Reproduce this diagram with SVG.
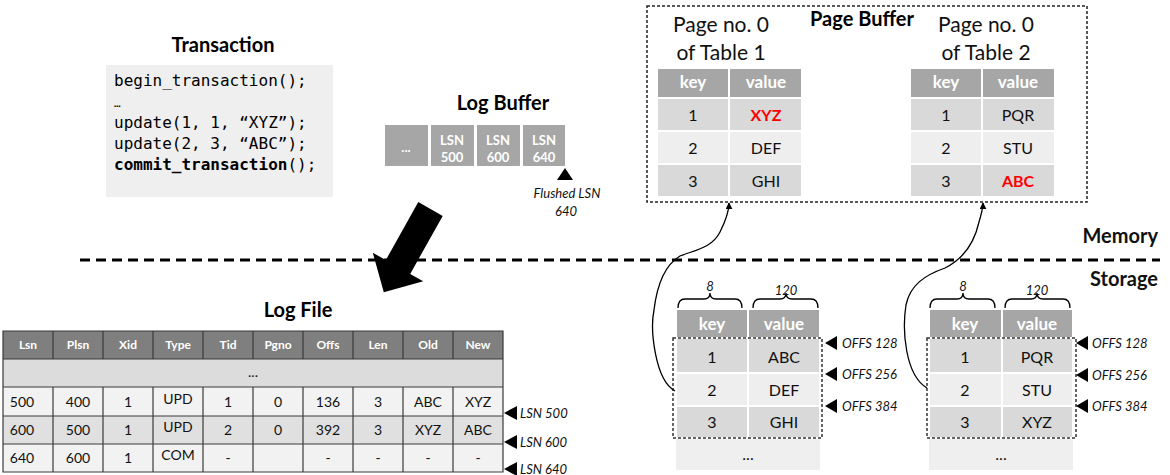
<svg xmlns="http://www.w3.org/2000/svg" width="1170" height="475" viewBox="0 0 1170 475">
<defs>
<marker id="ah" viewBox="0 0 10 10" refX="9" refY="5" markerWidth="7" markerHeight="7" markerUnits="userSpaceOnUse" orient="auto"><path d="M0,0 L10,5 L0,10 Z" fill="#000"/></marker>
</defs>
<style>
text{font-family:Lato,"Open Sans","Liberation Sans",sans-serif;fill:#111}
.title{font-weight:bold;font-size:20px;text-anchor:middle;fill:#000}
.code{font-family:"DejaVu Sans Mono","Liberation Mono",monospace;font-size:16px;fill:#000}
.hdr{fill:#a6a6a6;stroke:#fff;stroke-width:2}
.c1{fill:#d9d9d9;stroke:#fff;stroke-width:2}
.c2{fill:#eeeeee;stroke:#fff;stroke-width:2}
.ht{font-weight:bold;fill:#fff;font-size:17px;text-anchor:middle}
.dt{font-size:16px;text-anchor:middle}
.red{fill:#ff0000;font-weight:bold}
.it{font-style:italic;font-size:13px}
.tri{fill:#000}
.dash{fill:none;stroke:#333;stroke-width:1.5;stroke-dasharray:3 2}
.brace{fill:none;stroke:#000;stroke-width:1.3}
.lh{fill:#7f7f7f}
.lt{font-weight:bold;fill:#fff;font-size:12px;text-anchor:middle}
.ld{font-size:14px;text-anchor:middle}
.grid{stroke:#3a3a3a;stroke-width:1.2;fill:none}
.lb{fill:#a6a6a6;stroke:#fff;stroke-width:2}
.lbt{font-weight:bold;fill:#fff;font-size:13px;text-anchor:middle}
.pg{font-size:21px;text-anchor:middle}
</style>

<g id="transaction">
<text class="title" x="223" y="52">Transaction</text>
<rect x="106" y="65" width="227" height="132" fill="#efefef"/>
<text class="code" x="114" y="86">begin_transaction();</text>
<text class="code" x="114" y="107" style="font-size:11px">…</text>
<text class="code" x="114" y="128">update(1, 1, “XYZ”);</text>
<text class="code" x="114" y="149">update(2, 3, “ABC”);</text>
<text class="code" x="114" y="170"><tspan font-weight="bold">commit_transaction</tspan>();</text>
</g>

<g id="log-buffer">
<text class="title" x="503" y="110">Log Buffer</text>
<rect class="lb" x="384" y="124" width="45" height="43"/>
<rect class="lb" x="430" y="124" width="45" height="43"/>
<rect class="lb" x="476" y="124" width="45" height="43"/>
<rect class="lb" x="522" y="124" width="44" height="43"/>
<text class="lbt" x="406" y="152">...</text>
<text class="lbt" x="452" y="145">LSN</text><text class="lbt" x="452" y="162">500</text>
<text class="lbt" x="498" y="145">LSN</text><text class="lbt" x="498" y="162">600</text>
<text class="lbt" x="544" y="145">LSN</text><text class="lbt" x="544" y="162">640</text>
<path class="tri" d="M565,168 L573,180 L557,180 Z"/>
<text class="it" x="567" y="198" text-anchor="middle">Flushed LSN</text>
<text class="it" x="566" y="216" text-anchor="middle">640</text>
</g>

<g id="page-buffer">
<rect x="647" y="6" width="440" height="196" fill="none" stroke="#222" stroke-width="1.5" stroke-dasharray="3 2"/>
<text class="title" x="862" y="26">Page Buffer</text>
</g>

<g id="page-table-1">
<text class="pg" x="721" y="32">Page no. 0</text>
<text class="pg" x="721" y="60">of Table 1</text>
<rect class="hdr" x="657" y="68" width="72" height="30"/><rect class="hdr" x="729" y="68" width="73" height="30"/>
<rect class="c1" x="657" y="98" width="72" height="33"/><rect class="c1" x="729" y="98" width="73" height="33"/>
<rect class="c2" x="657" y="131" width="72" height="33"/><rect class="c2" x="729" y="131" width="73" height="33"/>
<rect class="c1" x="657" y="164" width="72" height="33"/><rect class="c1" x="729" y="164" width="73" height="33"/>
<text class="ht" x="693" y="88">key</text><text class="ht" x="766" y="88">value</text>
<text class="dt" x="693" y="121">1</text><text class="dt red" x="766" y="121">XYZ</text>
<text class="dt" x="693" y="154">2</text><text class="dt" x="766" y="154">DEF</text>
<text class="dt" x="693" y="187">3</text><text class="dt" x="766" y="187">GHI</text>
</g>

<g id="page-table-2">
<text class="pg" x="986" y="32">Page no. 0</text>
<text class="pg" x="986" y="60">of Table 2</text>
<rect class="hdr" x="910" y="68" width="72" height="30"/><rect class="hdr" x="982" y="68" width="73" height="30"/>
<rect class="c1" x="910" y="98" width="72" height="33"/><rect class="c1" x="982" y="98" width="73" height="33"/>
<rect class="c2" x="910" y="131" width="72" height="33"/><rect class="c2" x="982" y="131" width="73" height="33"/>
<rect class="c1" x="910" y="164" width="72" height="33"/><rect class="c1" x="982" y="164" width="73" height="33"/>
<text class="ht" x="946" y="88">key</text><text class="ht" x="1018" y="88">value</text>
<text class="dt" x="946" y="121">1</text><text class="dt" x="1018" y="121">PQR</text>
<text class="dt" x="946" y="154">2</text><text class="dt" x="1018" y="154">STU</text>
<text class="dt" x="946" y="187">3</text><text class="dt red" x="1018" y="187">ABC</text>
</g>

<g id="divider">
<line x1="80" y1="260" x2="1160" y2="260" stroke="#000" stroke-width="3" stroke-dasharray="10 6"/>
<text x="1158" y="243" font-size="20" font-weight="bold" text-anchor="end" fill="#000">Memory</text>
<text x="1158" y="286" font-size="20" font-weight="bold" text-anchor="end" fill="#000">Storage</text>
</g>

<g id="storage-table-1">
<path class="brace" d="M678,308 Q678,299 685,299 L704,299 Q710,299 710,293 Q710,299 716,299 L735,299 Q742,299 742,308"/>
<path class="brace" d="M753,308 Q753,299 760,299 L780,299 Q786,299 786,293 Q786,299 792,299 L811,299 Q818,299 818,308"/>
<text class="it" x="710" y="291" text-anchor="middle">8</text>
<text class="it" x="786" y="295" text-anchor="middle">120</text>
<rect class="hdr" x="676" y="309" width="72" height="29"/><rect class="hdr" x="748" y="309" width="72" height="29"/>
<rect class="c1" x="676" y="338" width="72" height="35"/><rect class="c1" x="748" y="338" width="72" height="35"/>
<rect class="c2" x="676" y="373" width="72" height="33"/><rect class="c2" x="748" y="373" width="72" height="33"/>
<rect class="c1" x="676" y="406" width="72" height="32"/><rect class="c1" x="748" y="406" width="72" height="32"/>
<rect x="676" y="439" width="144" height="31" fill="#efefef"/>
<rect class="dash" x="673" y="338" width="149" height="100"/>
<text class="ht" x="712" y="330">key</text><text class="ht" x="784" y="330">value</text>
<text class="dt" x="712" y="363">1</text><text class="dt" x="784" y="363">ABC</text>
<text class="dt" x="712" y="396">2</text><text class="dt" x="784" y="396">DEF</text>
<text class="dt" x="712" y="428">3</text><text class="dt" x="784" y="428">GHI</text>
<text class="dt" x="748" y="460" font-size="14">...</text>
<path class="tri" d="M825,343 L837,336 L837,350 Z"/>
<path class="tri" d="M825,374 L837,367 L837,381 Z"/>
<path class="tri" d="M825,406 L837,399 L837,413 Z"/>
<text class="it" x="842" y="348">OFFS 128</text>
<text class="it" x="842" y="379">OFFS 256</text>
<text class="it" x="842" y="411">OFFS 384</text>
</g>

<g id="storage-table-2">
<path class="brace" d="M930,308 Q930,299 937,299 L957,299 Q963,299 963,293 Q963,299 969,299 L988,299 Q995,299 995,308"/>
<path class="brace" d="M1005,308 Q1005,299 1012,299 L1031,299 Q1037,299 1037,293 Q1037,299 1043,299 L1063,299 Q1070,299 1070,308"/>
<text class="it" x="963" y="291" text-anchor="middle">8</text>
<text class="it" x="1037" y="295" text-anchor="middle">120</text>
<rect class="hdr" x="929" y="309" width="73" height="29"/><rect class="hdr" x="1002" y="309" width="71" height="29"/>
<rect class="c1" x="929" y="338" width="73" height="35"/><rect class="c1" x="1002" y="338" width="71" height="35"/>
<rect class="c2" x="929" y="373" width="73" height="33"/><rect class="c2" x="1002" y="373" width="71" height="33"/>
<rect class="c1" x="929" y="406" width="73" height="32"/><rect class="c1" x="1002" y="406" width="71" height="32"/>
<rect x="929" y="439" width="144" height="31" fill="#efefef"/>
<rect class="dash" x="927" y="338" width="149" height="100"/>
<text class="ht" x="965" y="330">key</text><text class="ht" x="1037" y="330">value</text>
<text class="dt" x="965" y="363">1</text><text class="dt" x="1037" y="363">PQR</text>
<text class="dt" x="965" y="396">2</text><text class="dt" x="1037" y="396">STU</text>
<text class="dt" x="965" y="428">3</text><text class="dt" x="1037" y="428">XYZ</text>
<text class="dt" x="1001" y="460" font-size="14">...</text>
<path class="tri" d="M1076,343 L1088,336 L1088,350 Z"/>
<path class="tri" d="M1076,375 L1088,368 L1088,382 Z"/>
<path class="tri" d="M1076,406 L1088,399 L1088,413 Z"/>
<text class="it" x="1092" y="348">OFFS 128</text>
<text class="it" x="1092" y="380">OFFS 256</text>
<text class="it" x="1092" y="411">OFFS 384</text>
</g>

<g id="log-file">
<text class="title" x="298" y="317">Log File</text>
<rect class="lh" x="3" y="331" width="500" height="28"/>
<rect x="3" y="359" width="500" height="28" fill="#dcdcdc"/>
<rect x="3" y="387" width="500" height="29" fill="#f2f2f2"/>
<rect x="3" y="416" width="500" height="28" fill="#e0e0e0"/>
<rect x="3" y="444" width="500" height="28" fill="#f2f2f2"/>
<path class="grid" d="M3,331 H503 V472 H3 Z M3,359 H503 M3,387 H503 M3,416 H503 M3,444 H503
M53,331 V359 M103,331 V359 M153,331 V359 M203,331 V359 M253,331 V359 M303,331 V359 M353,331 V359 M403,331 V359 M453,331 V359
M53,387 V472 M103,387 V472 M153,387 V472 M203,387 V472 M253,387 V472 M303,387 V472 M353,387 V472 M403,387 V472 M453,387 V472"/>
<text class="lt" x="28" y="349">Lsn</text><text class="lt" x="78" y="349">Plsn</text><text class="lt" x="128" y="349">Xid</text><text class="lt" x="178" y="349">Type</text><text class="lt" x="228" y="349">Tid</text><text class="lt" x="278" y="349">Pgno</text><text class="lt" x="328" y="349">Offs</text><text class="lt" x="378" y="349">Len</text><text class="lt" x="428" y="349">Old</text><text class="lt" x="478" y="349">New</text>
<text class="ld" x="253" y="377" font-size="11">...</text>
<text class="ld" x="22" y="407">500</text><text class="ld" x="78" y="407">400</text><text class="ld" x="128" y="407">1</text><text class="ld" x="178" y="404" font-size="12">UPD</text><text class="ld" x="228" y="407">1</text><text class="ld" x="278" y="407">0</text><text class="ld" x="328" y="407">136</text><text class="ld" x="378" y="407">3</text><text class="ld" x="428" y="407">ABC</text><text class="ld" x="478" y="407">XYZ</text>
<text class="ld" x="22" y="435">600</text><text class="ld" x="78" y="435">500</text><text class="ld" x="128" y="435">1</text><text class="ld" x="178" y="432" font-size="12">UPD</text><text class="ld" x="228" y="435">2</text><text class="ld" x="278" y="435">0</text><text class="ld" x="328" y="435">392</text><text class="ld" x="378" y="435">3</text><text class="ld" x="428" y="435">XYZ</text><text class="ld" x="478" y="435">ABC</text>
<text class="ld" x="22" y="463">640</text><text class="ld" x="78" y="463">600</text><text class="ld" x="128" y="463">1</text><text class="ld" x="178" y="460" font-size="12">COM</text><text class="ld" x="228" y="463">-</text><text class="ld" x="328" y="463">-</text><text class="ld" x="378" y="463">-</text><text class="ld" x="428" y="463">-</text><text class="ld" x="478" y="463">-</text>
<path class="tri" d="M504,413 L517,406 L517,420 Z"/>
<path class="tri" d="M504,442 L517,435 L517,449 Z"/>
<path class="tri" d="M504,469 L517,462 L517,476 Z"/>
<text class="it" x="520" y="418" font-size="14">LSN 500</text>
<text class="it" x="520" y="447" font-size="14">LSN 600</text>
<text class="it" x="520" y="474" font-size="14">LSN 640</text>
</g>

<g id="connectors">
<polygon points="418.3,202.1 442.7,215.9 410.2,273.9 423.2,281.2 383.8,292.2 372.8,252.8 385.8,260.1" fill="#000"/>
<path d="M675,391 C655,380 650,330 654,310 C657,285 665,265 680,256 C695,250 712,248 720,232 C727,218 729,210 729,203" fill="none" stroke="#000" stroke-width="1.3" marker-end="url(#ah)"/>
<path d="M927,388 C905,375 902,330 906,305 C910,285 925,275 945,268 C965,258 975,240 979,222 C982,212 983,207 983,203" fill="none" stroke="#000" stroke-width="1.3" marker-end="url(#ah)"/>
</g>
</svg>
